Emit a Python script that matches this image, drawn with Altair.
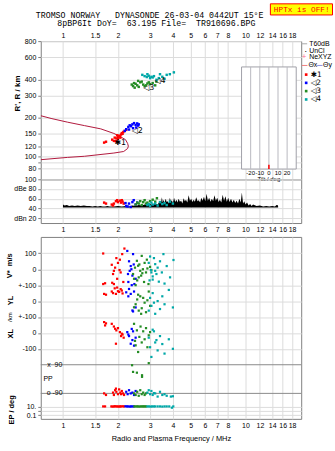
import altair as alt
import pandas as pd

SANS = "Liberation Sans"
MONO = "Liberation Mono"
NB = "\u00a0"

FREQ_TICKS = [1, 1.5, 2, 3, 4, 5, 6, 7, 8, 10, 12, 14, 16, 18]
HEIGHT_TICKS = [80, 90, 100, 120, 150, 200, 300, 400, 600, 800]
SNR_TICKS = [20, 40, 60, 80, 100]
TILT_TICKS = [-20, -10, 0, 10, 20]
SERIES = ["1", "2", "3", "4"]
COLORS = ["#ff0000", "#0000ff", "#248c24", "#00a8a8"]
LEGEND_TEXT = ["\u27311", "\u25c12", "\u25c13", "\u25c14"]
TITLE_1 = "TROMSO NORWAY   DYNASONDE 26-03-04 0442UT 15\u00b0E"
TITLE_2 = "8pBP6It DoY=  63.195 File=  TR910696.BPG"

# ---- model curve (R' vs f) ----
curve_f = [0.755, 0.86, 1.06, 1.31, 1.61, 1.9, 2.07, 2.2, 2.26, 2.28, 2.26, 2.15, 1.9, 1.31, 1.06, 0.755]
curve_h = [208, 198, 185, 174, 164, 151, 142, 135, 126, 120, 115, 109, 106, 100, 98, 94]

# ---- height panel points ----
h_f_1 = [1.68, 1.72, 1.86, 1.9, 1.92, 1.96, 2.0, 2.02, 2.05, 2.08, 2.1, 2.14, 2.18, 2.22, 1.95, 2.0, 2.06, 1.98, 2.12]
h_r_1 = [128, 130, 135, 132, 140, 138, 142, 145, 143, 148, 152, 155, 158, 161, 131, 137, 140, 146, 150]
h_f_2 = [2.18, 2.22, 2.28, 2.32, 2.36, 2.4, 2.45, 2.5, 2.52, 2.55, 2.58, 2.3, 2.42, 2.6]
h_r_2 = [158, 163, 170, 175, 172, 178, 182, 176, 168, 181, 174, 162, 166, 178]
h_f_3 = [2.38, 2.42, 2.45, 2.5, 2.55, 2.6, 2.65, 2.7, 2.75, 2.8, 2.85, 2.9, 3.0, 3.1, 3.2, 3.25, 2.58, 2.47, 2.95]
h_r_3 = [365, 355, 375, 370, 360, 350, 380, 385, 365, 355, 360, 372, 368, 375, 360, 385, 390, 345, 380]
h_f_4 = [2.72, 2.8, 2.88, 2.95, 3.0, 3.05, 3.1, 3.15, 3.25, 3.35, 3.5, 3.6, 3.7, 3.85, 4.05, 3.4, 2.9]
h_r_4 = [435, 425, 418, 428, 410, 420, 415, 425, 398, 410, 420, 405, 435, 440, 455, 440, 440]
mark_f = [2.06, 2.55, 2.95, 3.4]
mark_r = [128, 158, 345, 392]

# ---- SNR panel ----
noise_f = [1.0, 1.02, 1.05, 1.08, 1.12, 1.16, 1.2, 1.25, 1.3, 1.35, 1.4, 1.45, 1.5, 1.55, 1.6, 1.65, 1.7, 1.75,
           1.8, 1.9, 2.0, 2.1, 2.2, 2.3, 2.4, 2.5, 2.6, 2.7, 2.8, 2.9, 3.0, 3.1, 3.2, 3.3,
           3.40, 3.44, 3.48, 3.52, 3.56, 3.60, 3.65, 3.70, 3.75, 3.80, 3.85, 3.90, 3.95, 4.00, 4.06, 4.12,
           4.18, 4.24, 4.30, 4.37, 4.44, 4.51, 4.58, 4.65, 4.72, 4.80, 4.88, 4.96, 5.04, 5.12, 5.20, 5.28,
           5.37, 5.46, 5.55, 5.64, 5.73, 5.82, 5.92, 6.02, 6.12, 6.22, 6.32, 6.43, 6.54, 6.65, 6.76, 6.88,
           7.00, 7.12, 7.24, 7.37, 7.50, 7.63, 7.76, 7.90, 8.04, 8.18, 8.33, 8.48, 8.63, 8.78, 8.94, 9.10,
           9.26, 9.42, 9.55, 9.70, 9.85, 10.0,
           10.2, 10.4, 10.6, 10.8, 11.0, 11.5, 12.0, 12.5, 13.0, 13.5, 14.0, 14.5, 14.8, 15.0, 15.1]
noise_db = [48, 46, 47, 45, 46, 45, 46, 45, 46, 45, 45, 44, 45, 44, 45, 44, 44, 45,
            44, 44, 45, 44, 45, 44, 46, 45, 47, 46, 48, 47, 49, 47, 50, 48,
            56, 50, 63, 52, 58, 51, 60, 53, 55, 50, 62, 54, 57, 51, 62, 53,
            58, 52, 60, 54, 56, 50, 61, 55, 58, 52, 67, 56, 60, 53, 58, 54,
            63, 55, 57, 52, 62, 56, 64, 55, 70, 56, 62, 54, 60, 55, 67, 56,
            62, 53, 58, 52, 68, 56, 65, 54, 62, 53, 60, 52, 58, 51, 56, 50,
            60, 52, 73, 50, 55, 48,
            52, 46, 49, 45, 48, 45, 46, 44, 45, 44, 45, 44, 47, 47, 44]
s_f_1 = [1.68, 1.72, 1.85, 1.9, 1.95, 1.98, 2.0, 2.05, 2.08, 2.1, 2.12, 2.15, 1.88]
s_d_1 = [52, 50, 48, 50, 55, 57, 53, 56, 52, 57, 54, 50, 46]
s_f_2 = [2.2, 2.22, 2.26, 2.3, 2.35, 2.4, 2.44, 2.5, 2.55]
s_d_2 = [51, 45, 44, 50, 43, 53, 57, 48, 52]
s_f_3 = [2.5, 2.55, 2.6, 2.65, 2.7, 2.75, 2.8, 2.85, 2.9, 3.0, 3.1, 3.2, 3.27]
s_d_3 = [48, 52, 50, 55, 47, 53, 57, 50, 52, 55, 58, 54, 61]
s_f_4 = [2.9, 2.95, 3.0, 3.05, 3.1, 3.2, 3.3, 3.4, 3.5, 3.6, 3.7, 3.85, 4.0]
s_d_4 = [47, 49, 45, 52, 48, 50, 46, 53, 49, 51, 47, 54, 50]

# ---- lower panel: V*, YL, XL, PP, EP ----
v_f_1 = [1.66, 1.66, 1.70, 1.85, 1.88, 1.90, 1.93, 1.96, 2.00, 2.04, 2.07, 2.11, 2.14, 2.17, 1.98, 2.05, 1.90, 1.86]
v_v_1 = [99, -93, -88, 28, -30, -93, 10, 70, 40, -5, -20, 95, -80, 130, -60, 60, -10, -85]
v_f_2 = [2.25, 2.28, 2.30, 2.35, 2.37, 2.40, 2.42, 2.46, 2.50, 2.32, 2.38, 2.44, 2.27]
v_v_2 = [115, -80, 50, 20, 0, -40, 95, -93, -60, -10, -100, 30, -30]
v_f_3 = [2.42, 2.48, 2.50, 2.54, 2.58, 2.60, 2.65, 2.70, 2.74, 2.80, 2.85, 2.90, 2.94, 3.00, 2.55, 2.62, 2.68, 2.78, 2.88, 3.05, 2.45, 2.72]
v_v_3 = [-30, 10, -100, 53, 22, -51, -10, 84, 0, 40, -20, 5, -93, 15, -70, 30, -40, -80, 60, -5, -60, -25]
v_f_4 = [2.95, 3.03, 3.10, 3.15, 3.20, 3.25, 3.35, 3.48, 3.55, 3.70, 3.86, 4.03, 3.00, 3.30, 3.60, 3.10, 3.40, 2.98, 3.05, 3.20]
v_v_4 = [40, -5, -65, 70, 32, -30, -78, -20, 95, 20, -51, 58, 80, 10, -90, -45, 50, -70, -20, -10]

yl_f_1 = [1.68, 1.72, 1.85, 1.88, 1.92, 1.95, 2.00, 2.03, 2.07, 2.10, 2.12, 1.98]
yl_v_1 = [45, 40, 60, 50, 80, 45, 62, 58, 75, 66, 48, 85]
yl_f_2 = [2.22, 2.30, 2.35, 2.40, 2.42, 2.45, 2.50, 2.28]
yl_v_2 = [55, 76, 45, -59, -65, 60, -40, 30]
yl_f_3 = [2.45, 2.50, 2.55, 2.60, 2.65, 2.70, 2.75, 2.80, 2.85, 2.90, 3.00, 2.58, 2.68, 2.95]
yl_v_3 = [-39, -20, 10, -60, 30, -45, 20, -10, -70, 5, -30, 40, -80, 60]
yl_f_4 = [2.95, 3.00, 3.05, 3.10, 3.20, 3.30, 3.40, 3.50, 3.60, 3.80, 4.00, 3.15]
yl_v_4 = [-60, 20, -30, 50, -80, 0, -50, 30, -20, 70, -40, -10]

xl_f_1 = [1.68, 1.70, 1.72, 1.85, 1.90, 1.93, 1.96, 2.00, 2.05, 2.10, 2.12, 2.15, 1.95, 2.08]
xl_v_1 = [68, 47, 60, 57, 40, 26, 16, 30, 5, -5, -10, -30, -68, -20]
xl_f_2 = [2.25, 2.30, 2.35, 2.40, 2.42, 2.45, 2.50, 2.28, 2.38]
xl_v_2 = [5, -20, -68, -45, 10, -80, -30, -10, 25]
xl_f_3 = [2.45, 2.50, 2.54, 2.58, 2.62, 2.66, 2.70, 2.75, 2.80, 2.85, 2.90, 2.95, 3.00, 2.48]
xl_v_3 = [57, -78, 16, -120, -25, 40, -60, 10, -40, 30, -90, -15, 5, -50]
xl_f_4 = [2.95, 3.00, 3.05, 3.10, 3.20, 3.30, 3.40, 3.50, 3.60, 3.80, 4.00, 3.15, 3.25]
xl_v_4 = [-30, -90, -151, 20, -60, -110, -20, -70, -130, -40, -100, 10, -45]

pp_f_1 = [1.68, 1.72, 1.88, 1.90, 1.93, 1.96, 2.00, 2.03, 2.06, 2.10, 2.13, 2.16, 1.95, 2.08]
pp_v_1 = [-90, -100, -85, -100, -70, -80, -95, -65, -85, -75, -90, -100, -60, -95]
pp_f_2 = [2.22, 2.26, 2.30, 2.35, 2.40, 2.45, 2.50]
pp_v_2 = [-80, -95, -70, -90, -85, -100, -75]
pp_f_3 = [2.45, 2.50, 2.55, 2.60, 2.65, 2.70, 2.75, 2.80, 2.85, 2.39, 2.95, 2.42, 2.54, 2.71, 2.71]
pp_v_3 = [-90, -100, -80, -105, -70, -95, -85, -100, -90, 87, 100, 45, 40, 24, 14]
pp_f_4 = [2.90, 3.00, 3.05, 3.10, 3.20, 3.30, 3.40, 3.50, 3.60, 3.70, 3.90, 4.00, 2.95, 3.15]
pp_v_4 = [-85, -95, -75, -100, -90, -110, -80, -100, -95, -105, -110, -108, -70, -88]

ep_f_1 = [1.66, 1.70, 1.84, 1.87, 1.90, 1.93, 1.96, 1.99, 2.02, 2.05, 2.08, 2.12, 2.16]
ep_v_1 = [12, 12, 12, 11, 12, 13, 12, 12, 11, 12, 12, 13, 12]
ep_f_2 = [2.20, 2.24, 2.28, 2.32, 2.36, 2.40, 2.44]
ep_v_2 = [13, 12, 12, 11, 12, 12, 12]
ep_f_3 = [2.46, 2.50, 2.54, 2.58, 2.62, 2.66, 2.70, 2.74, 2.78, 2.82, 2.86]
ep_v_3 = [12, 12, 12, 12, 11, 12, 12, 12, 12, 12, 12]
ep_f_4 = [2.90, 2.96, 3.02, 3.08, 3.14, 3.20, 3.30, 3.40, 3.50, 3.60, 3.70, 3.82, 3.95, 4.02]
ep_v_4 = [12, 12, 11, 12, 12, 12, 12, 12, 11, 12, 12, 12, 6, 12]

# ------------------------------------------------------------------
def frame(pairs, vname):
    rows = []
    for s, (fs, vs) in zip(SERIES, pairs):
        for f, v in zip(fs, vs):
            rows.append({"f": f, vname: v, "s": s})
    return pd.DataFrame(rows)

curve_df = pd.DataFrame({"f": curve_f, "h": curve_h, "o": list(range(len(curve_f)))})
hpts = frame([(h_f_1, h_r_1), (h_f_2, h_r_2), (h_f_3, h_r_3), (h_f_4, h_r_4)], "h")
marks_df = pd.DataFrame({"f": mark_f, "h": mark_r, "t": LEGEND_TEXT})
noise_df = pd.DataFrame({"f": noise_f, "db": noise_db})
spts = frame([(s_f_1, s_d_1), (s_f_2, s_d_2), (s_f_3, s_d_3), (s_f_4, s_d_4)], "db")

strips = []
for name, pairs in [("V", [(v_f_1, v_v_1), (v_f_2, v_v_2), (v_f_3, v_v_3), (v_f_4, v_v_4)]),
                    ("YL", [(yl_f_1, yl_v_1), (yl_f_2, yl_v_2), (yl_f_3, yl_v_3), (yl_f_4, yl_v_4)]),
                    ("XL", [(xl_f_1, xl_v_1), (xl_f_2, xl_v_2), (xl_f_3, xl_v_3), (xl_f_4, xl_v_4)]),
                    ("PP", [(pp_f_1, pp_v_1), (pp_f_2, pp_v_2), (pp_f_3, pp_v_3), (pp_f_4, pp_v_4)]),
                    ("EP", [(ep_f_1, ep_v_1), (ep_f_2, ep_v_2), (ep_f_3, ep_v_3), (ep_f_4, ep_v_4)])]:
    d = frame(pairs, "v")
    d["strip"] = name
    strips.append(d)
lower_df = pd.concat(strips, ignore_index=True)

one = pd.DataFrame({"k": [0]})
tilt_df = pd.DataFrame({"t": TILT_TICKS, "lab": [str(t) for t in TILT_TICKS]})
box_df = pd.DataFrame({"t0": [-30], "t1": [30], "tz": [0]})

xs = alt.Scale(type="log", domain=[0.755, 20.2], nice=False)
color = alt.Color("s:N", scale=alt.Scale(domain=SERIES, range=COLORS), legend=None)

AX_TOP = alt.Axis(orient="top", values=FREQ_TICKS, format="~g", grid=True, ticks=False,
                  labelPadding=3, title=None, labelFlush=False)
AX_BOT = alt.Axis(orient="bottom", values=FREQ_TICKS, format="~g", grid=True, ticks=False,
                  labelPadding=3, title=None, labelFlush=False)
AX_BOT_C = alt.Axis(orient="bottom", values=FREQ_TICKS, format="~g", grid=True, ticks=False,
                    labelPadding=3, title="Radio and Plasma Frequency / MHz", titlePadding=6,
                    titleFont=SANS, titleFontSize=7.5, titleFontWeight="normal", labelFlush=False)

ys_h = alt.Scale(type="log", domain=[66, 800], nice=False)
AX_H = alt.Axis(values=HEIGHT_TICKS, format="~g", grid=True, tickSize=3, labelPadding=2, title=None)

ys_s = alt.Scale(domain=[10, 100], nice=False, zero=False)
AX_S = alt.Axis(values=SNR_TICKS, grid=True, tickSize=3, labelPadding=2, title=None,
                labelExpr="datum.value == 80 ? 'dBe 80' : datum.value == 20 ? 'dBn 20' : datum.label")

ys_c = alt.Scale(domain=[-940, 203], nice=False, zero=False)
AX_C = alt.Axis(values=[100, 0, -100, -200, -300, -400, -500, -864, -891, -917.5], grid=True,
                tickSize=3, labelPadding=2, title=None,
                labelExpr=("datum.value == 100 ? '100' : datum.value == 0 ? '0' : datum.value == -100 ? '+-100' : "
                           "datum.value == -200 ? '0' : datum.value == -300 ? '+-100' : datum.value == -400 ? '0' : "
                           "datum.value == -500 ? '-100' : datum.value == -864 ? '10.' : datum.value == -917.5 ? '0.1' : ''"))


def label(text, x, y, size=7, color="black", align="left", angle=0, font=SANS, weight="normal", baseline="middle"):
    return alt.Chart(one).mark_text(text=text.replace(" ", NB), fontSize=size, color=color, align=align,
                                    angle=angle, font=font, fontWeight=weight, baseline=baseline).encode(
        x=alt.value(x), y=alt.value(y))


def dash(x1, x2, y, color):
    return alt.Chart(one).mark_rule(color=color, strokeWidth=1).encode(
        x=alt.value(x1), x2=alt.value(x2), y=alt.value(y))


# ---------------- Panel A: virtual height ----------------
XA = alt.X("f:Q", scale=xs, axis=AX_TOP)
YA = alt.Y("h:Q", scale=ys_h, axis=AX_H)

# invisible sheet spanning the whole 335x451 page, so that the plot lands at (40, 39)
sheet = alt.Chart(one).mark_rect(opacity=0).encode(
    x=alt.value(-40), x2=alt.value(295), y=alt.value(-39), y2=alt.value(412))

curve = alt.Chart(curve_df).mark_line(color="#b0183c", strokeWidth=1, clip=True).encode(
    x=XA, y=YA, order="o:Q")
hp = alt.Chart(hpts).mark_square(size=6, opacity=1).encode(x=XA, y=YA, color=color)
hm = alt.Chart(marks_df).mark_text(fontSize=8, font="DejaVu Sans", color="black").encode(
    x=XA, y=YA, text="t:N")

annot = [
    label(TITLE_1, -5, -23.7, size=8.3, font=MONO, baseline="alphabetic"),
    label(TITLE_2, 16.7, -15.7, size=8.3, font=MONO, baseline="alphabetic"),
    alt.Chart(one).mark_rect(fill="#ffff00", stroke="#ff0000", strokeWidth=1).encode(
        x=alt.value(231), x2=alt.value(293.5), y=alt.value(-37.5), y2=alt.value(-26.3)),
    label("HPTx is OFF!", 234.5, -28.8, size=7.8, font=MONO, color="#ff0000", baseline="alphabetic"),
    label("R', R / km", -23, 52.7, size=8, angle=270, align="center", weight="bold"),
    dash(262, 268, 2.7, "#a8a8a8"),
    label("T60dB", 270, 2.7),
    label("\u00b7", 265, 9.5, size=9),
    label("UnCl", 270, 9.5),
    label("+", 265, 16.5, size=8, color="#ff7090", align="center"),
    label("NeXYZ", 270, 16.5),
    dash(262.7, 268.3, 24.5, "#f08080"),
    label("\u0398x", 269.3, 24.5),
    dash(278, 283.5, 24.5, "#9090e0"),
    label("\u0398y", 284, 24.5),
]
leg_y = [33.7, 42, 50.3, 58.7]
for txt, col, yy in zip(LEGEND_TEXT, COLORS, leg_y):
    annot.append(alt.Chart(one).mark_square(size=7, color=col, opacity=1).encode(
        x=alt.value(267), y=alt.value(yy)))
    annot.append(label(txt, 271.5, yy, size=7.5, font="DejaVu Sans"))

main_a = alt.layer(sheet, curve, hp, hm, *annot)

ts = alt.Scale(domain=[-30, 30], range=[202, 257], nice=False, zero=False)
XT = alt.X("t:Q", scale=ts, axis=None)
inset = alt.layer(
    alt.Chart(box_df).mark_rect(fill="white", stroke="#a0a0a8", strokeWidth=1).encode(
        x=alt.X("t0:Q", scale=ts, axis=None), x2="t1:Q", y=alt.value(26), y2=alt.value(128.7)),
    alt.Chart(tilt_df).mark_rule(color="#b8b8c0", strokeWidth=1).encode(
        x=XT, y=alt.value(26), y2=alt.value(128.7)),
    alt.Chart(tilt_df).mark_text(fontSize=6, font=SANS, color="black", baseline="top").encode(
        x=XT, y=alt.value(130), text="lab:N"),
    alt.Chart(box_df).mark_text(text="Tilt / deg", fontSize=6, font=SANS, color="black", baseline="top").encode(
        x=alt.X("tz:Q", scale=ts, axis=None), y=alt.value(136)),
    alt.Chart(box_df).mark_rule(color="#ff0000", strokeWidth=1.5).encode(
        x=alt.X("tz:Q", scale=ts, axis=None), y=alt.value(124.5), y2=alt.value(128.7)),
)

panel_a = alt.layer(main_a, inset).resolve_scale(x="independent").properties(width=262, height=139)

# ---------------- Panel B: SNR ----------------
XB = alt.X("f:Q", scale=xs, axis=AX_BOT)
YB = alt.Y("db:Q", scale=ys_s, axis=AX_S)
panel_b = alt.layer(
    alt.Chart(noise_df).mark_area(color="black", interpolate="linear").encode(x=XB, y=YB, y2=alt.Y2(datum=42)),
    alt.Chart(spts).mark_square(size=6, opacity=1).encode(x=XB, y=YB, color=color),
).properties(width=262, height=44)

# empty gap between the upper and lower figures
gap = alt.Chart(one).mark_point(opacity=0).encode(x=alt.value(0), y=alt.value(0)).properties(
    width=262, height=14, view=alt.ViewBackground(strokeOpacity=0))

# ---------------- Panel C: V*, YL, XL, PP, EP ----------------
XC = alt.X("f:Q", scale=xs, axis=AX_BOT_C)
YC = alt.Y("c:Q", scale=ys_c, axis=AX_C)
lower_pts = alt.Chart(lower_df).transform_calculate(
    c=("datum.strip == 'V' ? datum.v : datum.strip == 'YL' ? datum.v - 200 : "
       "datum.strip == 'XL' ? datum.v - 400 : datum.strip == 'PP' ? datum.v - 690 : "
       "-890.75 + 26.75 * log(datum.v) / LN10")
).mark_square(size=5, opacity=1).encode(x=XC, y=YC, color=color)

rules_c = [alt.Chart(one).mark_rule(color="#8a8a8a", strokeWidth=1).encode(
    y=alt.Y(datum=d, scale=ys_c, axis=AX_C)) for d in (-600, -780)]

texts_c = [
    alt.Chart(one).mark_text(text="x" + NB + NB + "90", fontSize=7, font=SANS, color="black", align="left").encode(
        x=alt.value(6.5), y=alt.Y(datum=-600, scale=ys_c, axis=AX_C)),
    alt.Chart(one).mark_text(text="PP", fontSize=7, font=SANS, color="black", align="left").encode(
        x=alt.value(2.7), y=alt.Y(datum=-689, scale=ys_c, axis=AX_C)),
    alt.Chart(one).mark_text(text="o" + NB + "-90", fontSize=7, font=SANS, color="black", align="left").encode(
        x=alt.value(6), y=alt.Y(datum=-780, scale=ys_c, axis=AX_C)),
    label("V*  m/s", -31, 29, size=7.5, angle=270, align="center", weight="bold"),
    label("YL", -30, 64, size=7.5, angle=270, align="center", weight="bold"),
    label("/km", -31, 80.7, size=6, angle=270, align="center"),
    label("XL", -30, 97.3, size=7.5, angle=270, align="center", weight="bold"),
    label("EP / deg", -29, 174, size=7.5, angle=270, align="center", weight="bold"),
]

panel_c = alt.layer(*rules_c, lower_pts, *texts_c).properties(width=262, height=183)

chart = alt.vconcat(panel_a, panel_b, gap, panel_c, spacing=0, bounds="flush").properties(
    padding=0,
    background="white",
).configure_view(stroke="#808080", strokeWidth=1).configure_axis(
    labelFont=SANS, labelFontSize=7, labelColor="black", gridColor="#dcdcdc", gridWidth=1,
    tickColor="#808080", domain=False, titleColor="black",
)

chart.save("out.html", embed_options={"renderer": "svg", "actions": False})
